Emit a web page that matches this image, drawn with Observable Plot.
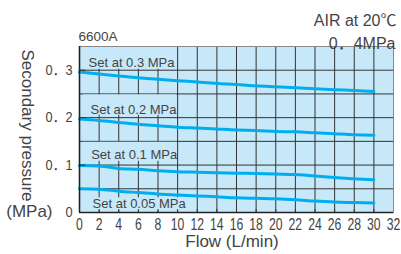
<!DOCTYPE html>
<html>
<head>
<meta charset="utf-8">
<script src="https://cdn.jsdelivr.net/npm/d3@7"></script>
<script src="https://cdn.jsdelivr.net/npm/@observablehq/plot@0.6"></script>
<style>
  html, body { margin: 0; padding: 0; background: #fff; }
  svg { display: block; }
</style>
</head>
<body>
<div id="chart"></div>
<script>
// ---- data ----
const flow = [0, 2, 4, 6, 8, 10, 12, 14, 16, 18, 20, 22, 24, 26, 28, 30];
const set030 = [0.296, 0.292, 0.288, 0.284, 0.281, 0.278, 0.275, 0.272, 0.270, 0.267, 0.265, 0.263, 0.261, 0.259, 0.257, 0.255];
const set020 = [0.197, 0.194, 0.190, 0.186, 0.183, 0.180, 0.178, 0.176, 0.174, 0.173, 0.171, 0.170, 0.168, 0.166, 0.164, 0.163];
const set010 = [0.099, 0.098, 0.093, 0.091, 0.088, 0.086, 0.085, 0.084, 0.083, 0.082, 0.081, 0.080, 0.077, 0.074, 0.071, 0.069];
const set005 = [0.050, 0.049, 0.045, 0.042, 0.039, 0.037, 0.035, 0.033, 0.031, 0.030, 0.029, 0.027, 0.024, 0.022, 0.021, 0.020];
const seriesNames = ["Set at 0.3 MPa", "Set at 0.2 MPa", "Set at 0.1 MPa", "Set at 0.05 MPa"];
const seriesValues = [set030, set020, set010, set005];

const xTicks = [0, 2, 4, 6, 8, 10, 12, 14, 16, 18, 20, 22, 24, 26, 28, 30, 32];
const yTicks = [0, 0.1, 0.2, 0.3];
const yTickLabels = ["0", "0．1", "0．2", "0．3"];
const yGrid = [0.05, 0.1, 0.15, 0.2, 0.25, 0.3];

// label annotations (data units): anchor point and the background box behind each label
const labelX = [0.92, 1.12, 1.19, 1.33];
const labelY = [0.315, 0.2175, 0.1225, 0.019];
const boxX1 = [0.4, 0.4, 0.4, 0.4];
const boxX2 = [9.9, 9.9, 9.9, 10.7];
const boxY1 = [0.302, 0.205, 0.108, 0.004];
const boxY2 = [0.3495, 0.248, 0.148, 0.031];

// ---- build tables ----
const lineData = seriesNames.flatMap((name, s) =>
  flow.map((f, i) => ({series: name, flow: f, p: seriesValues[s][i]})));
const labels = seriesNames.map((name, s) => ({
  name, x: labelX[s], y: labelY[s],
  x1: boxX1[s], x2: boxX2[s], y1: boxY1[s], y2: boxY2[s]
}));
const yLabelMap = new Map(yTicks.map((t, i) => [t, yTickLabels[i]]));

const BG = "#c6e8f8";
const LINE = "#00aeef";
const TXT = "#444";
const FONT = "'Liberation Sans', 'Noto Sans CJK JP', sans-serif";

const chart = Plot.plot({
  width: 401,
  height: 254,
  marginLeft: 79,
  marginRight: 8,
  marginTop: 46,
  marginBottom: 42,
  style: {fontFamily: FONT, background: "#fff", color: TXT, overflow: "visible"},
  x: {domain: [0, 32]},
  y: {domain: [0, 0.35]},
  marks: [
    Plot.frame({fill: BG}),
    Plot.ruleX(xTicks.filter(d => d > 0 && d < 32), {stroke: "#333", strokeWidth: 1}),
    Plot.ruleY(yGrid, {stroke: "#333", strokeWidth: 1}),
    Plot.rect(labels, {x1: "x1", x2: "x2", y1: "y1", y2: "y2", fill: BG}),
    Plot.line(lineData, {x: "flow", y: "p", z: "series", stroke: LINE, strokeWidth: 3, curve: "monotone-x"}),
    Plot.text(labels, {x: "x", y: "y", text: "name", textAnchor: "start", fill: TXT,
      fontSize: 13, fontFamily: FONT}),
    // inward tick stubs
    Plot.ruleY(yTicks.filter(d => d > 0), {x1: 0, x2: 0.65, stroke: "#333"}),
    Plot.ruleX(xTicks.filter(d => d > 0 && d < 32), {y1: 0, y2: 0.006, stroke: "#333"}),
    Plot.frame({stroke: "#888", strokeWidth: 1}),
    Plot.ruleX([0], {stroke: "#222", strokeWidth: 1.6}),
    Plot.ruleY([0], {stroke: "#222", strokeWidth: 1.6}),
    Plot.axisX({ticks: xTicks, tickSize: 0, tickPadding: 5, tickFormat: d => String(d),
      label: null, fontSize: 17, fill: TXT}),
    Plot.axisY({ticks: yTicks, tickSize: 0, tickPadding: 7, tickFormat: d => yLabelMap.get(d),
      label: null, fontSize: 15, fill: TXT}),
    // titles
    Plot.text(["Secondary pressure"], {frameAnchor: "left", textAnchor: "middle", rotate: 90, dx: -52, dy: -4,
      fontSize: 17, fill: TXT, fontFamily: FONT}),
    Plot.text(["(MPa)"], {frameAnchor: "bottom-left", textAnchor: "end", dx: -27, dy: 4,
      fontSize: 17, fill: TXT, fontFamily: FONT}),
    Plot.text(["Flow (L/min)"], {frameAnchor: "bottom", dx: -4.5, dy: 34,
      fontSize: 17, fill: TXT, fontFamily: FONT}),
    Plot.text(["6600A"], {frameAnchor: "top-left", textAnchor: "start", dx: -1, dy: -15.5,
      fontSize: 13.5, fill: TXT, fontFamily: FONT}),
    Plot.text(["AIR at 20℃"], {frameAnchor: "top-right", textAnchor: "end", dx: 3, dy: -32,
      fontSize: 16, fill: TXT, fontFamily: FONT}),
    Plot.text(["0．4MPa"], {frameAnchor: "top-right", textAnchor: "end", dx: 2, dy: -9,
      fontSize: 16, fill: TXT, fontFamily: FONT})
  ]
});

// condense the numeric tick labels horizontally (the reference uses a narrow face),
// scaling each label about its own anchor point so positions are kept
function condense(selector, sx) {
  d3.select(chart).selectAll(selector).each(function () {
    const x = parseFloat(this.getAttribute("x")) || 0;
    const y = parseFloat(this.getAttribute("y")) || 0;
    const t = this.getAttribute("transform") || "";
    this.setAttribute("transform",
      `${t} translate(${x},${y}) scale(${sx},1) translate(${-x},${-y})`);
  });
}
condense('g[aria-label^="x-axis tick label"] text', 0.72);
condense('g[aria-label^="y-axis tick label"] text', 0.85);

document.getElementById("chart").appendChild(chart);
</script>
</body>
</html>
